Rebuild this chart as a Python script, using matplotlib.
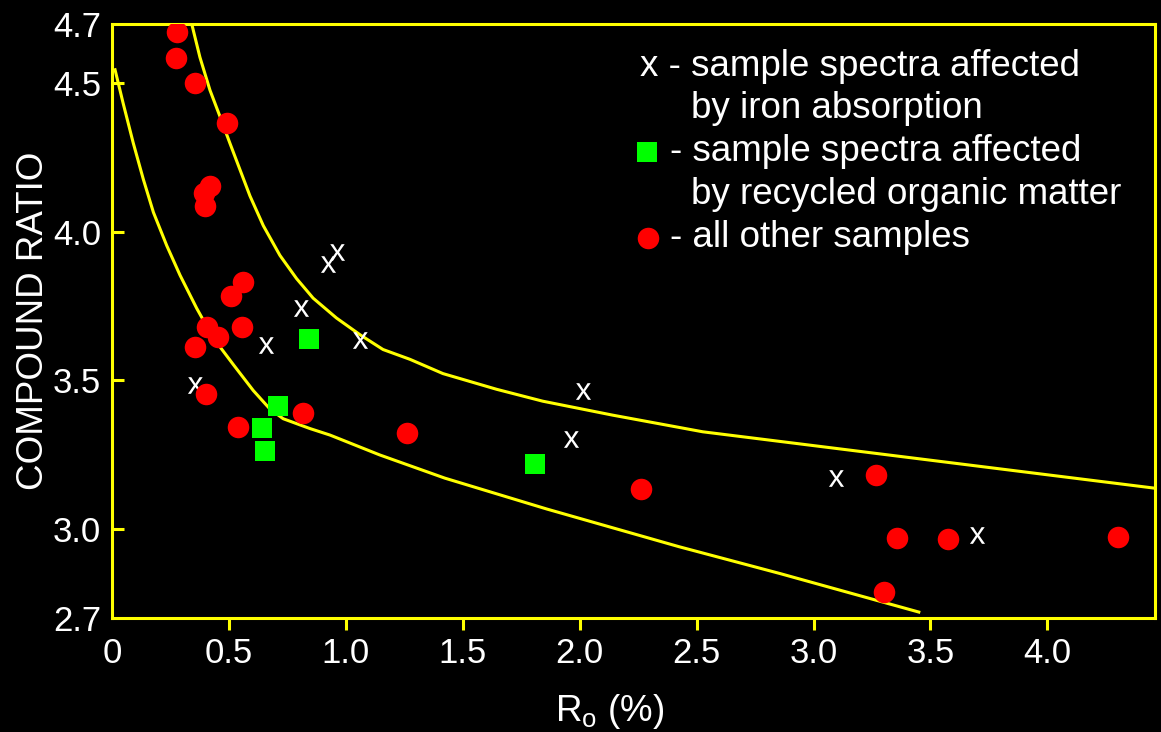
import matplotlib
matplotlib.use('Agg')
import matplotlib.pyplot as plt

plt.rcParams['font.family'] = ['Liberation Sans', 'DejaVu Sans']
plt.rcParams['mathtext.fontset'] = 'custom'
plt.rcParams['mathtext.rm'] = 'Liberation Sans'
plt.rcParams['mathtext.it'] = 'Liberation Sans'
plt.rcParams['mathtext.bf'] = 'Liberation Sans:bold'

# ── data ─────────────────────────────────────────────────────────────────
other_ro = [0.278, 0.274, 0.355, 0.491, 0.419, 0.393, 0.397, 0.560, 0.509,
            0.406, 0.453, 0.556, 0.355, 0.402, 0.538, 0.816, 1.260, 2.260,
            3.265, 3.355, 3.573, 3.303, 4.303]
other_cr = [4.673, 4.587, 4.500, 4.367, 4.153, 4.130, 4.087, 3.830, 3.783,
            3.680, 3.647, 3.680, 3.613, 3.453, 3.343, 3.390, 3.323, 3.133,
            3.183, 2.970, 2.967, 2.787, 2.973]

organic_ro = [0.842, 0.709, 0.641, 0.654, 1.808]
organic_cr = [3.640, 3.413, 3.340, 3.263, 3.217]

iron_ro = [0.960, 0.923, 0.810, 0.658, 1.060, 0.355, 2.013, 1.962, 3.098, 3.697]
iron_cr = [3.933, 3.893, 3.743, 3.620, 3.637, 3.483, 3.463, 3.303, 3.170, 2.980]

upper_ro = [0.341, 0.376, 0.419, 0.462, 0.504, 0.547, 0.590, 0.647, 0.718,
            0.789, 0.860, 0.960, 1.060, 1.159, 1.274, 1.415, 1.645, 1.842,
            2.141, 2.526, 4.460]
upper_cr = [4.700, 4.588, 4.477, 4.388, 4.299, 4.210, 4.121, 4.021, 3.921,
            3.843, 3.777, 3.710, 3.654, 3.604, 3.571, 3.523, 3.470, 3.430,
            3.383, 3.327, 3.137]

lower_ro = [0.013, 0.048, 0.091, 0.134, 0.177, 0.234, 0.291, 0.362, 0.433,
            0.518, 0.604, 0.675, 0.732, 0.846, 0.932, 1.145, 1.423, 1.859,
            2.425, 2.855, 3.450]
lower_cr = [4.546, 4.432, 4.299, 4.177, 4.066, 3.954, 3.854, 3.743, 3.643,
            3.554, 3.466, 3.404, 3.371, 3.338, 3.316, 3.249, 3.171, 3.067,
            2.940, 2.850, 2.720]

xticks = [0, 0.5, 1.0, 1.5, 2.0, 2.5, 3.0, 3.5, 4.0]
xtick_labels = ['0', '0.5', '1.0', '1.5', '2.0', '2.5', '3.0', '3.5', '4.0']
yticks = [2.7, 3.0, 3.5, 4.0, 4.5, 4.7]
ytick_labels = ['2.7', '3.0', '3.5', '4.0', '4.5', '4.7']

YELLOW = '#ffff00'
RED = '#ff0000'
GREEN = '#00ff00'

W, H = 1161, 732
fig = plt.figure(figsize=(W / 100, H / 100), dpi=100)
fig.patch.set_facecolor('black')
ax = fig.add_axes([112 / W, 1 - 618 / H, (1155 - 112) / W, (618 - 24) / H])
ax.set_facecolor('black')

# envelope curves
ax.plot(upper_ro, upper_cr, color=YELLOW, lw=2.2, zorder=2)
ax.plot(lower_ro, lower_cr, color=YELLOW, lw=2.2, zorder=2)

# samples
ax.plot(iron_ro, iron_cr, ls='none', marker='$x$', ms=12, mew=0,
        color='white', zorder=3)
ax.plot(organic_ro, organic_cr, ls='none', marker='s', ms=14.5, mew=0,
        color=GREEN, zorder=4)
ax.plot(other_ro, other_cr, ls='none', marker='o', ms=15.5, mew=0,
        color=RED, zorder=5)

ax.set_xlim(0, 4.46)
ax.set_ylim(2.7, 4.7)
ax.set_xticks(xticks)
ax.set_xticklabels(xtick_labels)
ax.set_yticks(yticks)
ax.set_yticklabels(ytick_labels)
ax.tick_params(axis='x', direction='out', length=8.5, width=2.2, color=YELLOW,
               labelcolor='white', labelsize=25, pad=5)
ax.tick_params(axis='y', direction='in', length=8.5, width=2.2, color=YELLOW,
               labelcolor='white', labelsize=25, pad=8)
ax.xaxis.get_major_ticks()[0].tick1line.set_visible(False)
for t in (ax.yaxis.get_major_ticks()[0], ax.yaxis.get_major_ticks()[-1]):
    t.tick1line.set_visible(False)
for spine in ax.spines.values():
    spine.set_edgecolor(YELLOW)
    spine.set_linewidth(2.2)

ax.set_xlabel(r'R$_\mathregular{o}$ (%)', color='white', fontsize=26.5, labelpad=16)
ax.xaxis.label.set_x((610 - 112) / (1155 - 112))
ax.set_ylabel('COMPOUND RATIO', color='white', fontsize=26.5, labelpad=1.5)

# legend drawn by hand (multi-line entries)
def px(x, y):
    return x / W, 1 - y / H

fs = 26.5
fig.text(*px(640, 76), 'x - sample spectra affected', color='white',
         fontsize=fs, va='baseline')
fig.text(*px(691, 118), 'by iron absorption', color='white',
         fontsize=fs, va='baseline')
fig.text(*px(670, 161), '- sample spectra affected', color='white',
         fontsize=fs, va='baseline')
fig.text(*px(691, 204), 'by recycled organic matter', color='white',
         fontsize=fs, va='baseline')
fig.text(*px(670, 247), '- all other samples', color='white',
         fontsize=fs, va='baseline')
ax.plot([px(647, 152)[0]], [px(647, 152)[1]], transform=fig.transFigure,
        marker='s', ms=14.5, mew=0, color=GREEN, clip_on=False)
ax.plot([px(648, 238)[0]], [px(648, 238)[1]], transform=fig.transFigure,
        marker='o', ms=15.5, mew=0, color=RED, clip_on=False)

fig.savefig('out.png', dpi=100, facecolor=fig.get_facecolor())
